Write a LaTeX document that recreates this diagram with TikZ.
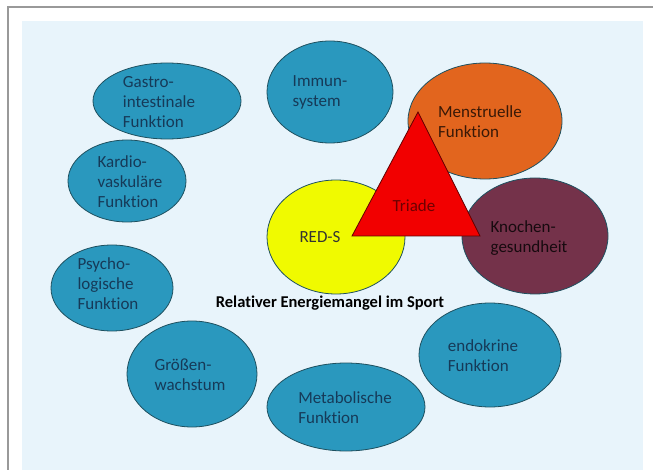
\documentclass[tikz,border=0pt]{standalone}
\usepackage{fontspec}
\setmainfont[Ligatures=NoCommon]{Carlito}
\usetikzlibrary{shapes.geometric}
\definecolor{pagebg}{RGB}{232,244,251}
\definecolor{bubblue}{RGB}{42,152,190}
\definecolor{bubline}{RGB}{30,80,95}
\definecolor{bubtext}{RGB}{22,58,88}
\definecolor{menstr}{RGB}{226,101,30}
\definecolor{knochen}{RGB}{116,50,74}
\definecolor{reds}{RGB}{240,250,0}
\definecolor{triade}{RGB}{242,0,0}
\begin{document}
\begin{tikzpicture}[x=1pt,y=-1pt,
	bub/.style={ellipse,draw=bubline,line width=0.8pt,fill=bubblue,inner sep=0pt},
	txt/.style={align=left,inner sep=0pt,text=bubtext,font=\fontsize{17}{20}\selectfont}]
		\useasboundingbox (0,0) rectangle (653,470);
		\fill[white] (0,0) rectangle (653,470);
		\draw[gray!80,line width=1.2pt] (8,470) -- (8,7) -- (653,7);
		\fill[pagebg] (22,21) rectangle (643,470);
		% blaue Kreise
		\node[bub,minimum width=148pt,minimum height=76pt] (gastro) at (167,101) {};
		\node[bub,minimum width=126pt,minimum height=102pt] (immun) at (330,92) {};
		\node[bub,minimum width=118pt,minimum height=82pt] (kardio) at (127,181) {};
		\node[bub,minimum width=122pt,minimum height=86pt] (psycho) at (112,288) {};
		\node[bub,minimum width=130pt,minimum height=106pt] (groesse) at (192,374) {};
		\node[bub,minimum width=158pt,minimum height=88pt] (metab) at (346,407) {};
		\node[bub,minimum width=142pt,minimum height=104pt] (endo) at (490,355) {};
		\node[txt] (gastro-t) at (159,102) {Gastro-\\intestinale\\Funktion};
		\node[txt] (immun-t) at (320,92) {Immun-\\system};
		\node[txt] (kardio-t) at (130,182) {Kardio-\\vaskuläre\\Funktion};
		\node[txt] (psycho-t) at (108,284) {Psycho-\\logische\\Funktion};
		\node[txt] (groesse-t) at (190,375) {Größen-\\wachstum};
		\node[txt] (metab-t) at (345,408) {Metabolische\\Funktion};
		\node[txt] (endo-t) at (483,356) {endokrine\\Funktion};
		% Triade
		\node[bub,fill=menstr,minimum width=154pt,minimum height=116pt] (menstr) at (485,121) {};
		\node[bub,fill=reds,minimum width=138pt,minimum height=114pt] (reds) at (336,237) {};
		\node[bub,fill=knochen,minimum width=146pt,minimum height=116pt] (knochen) at (535,236) {};
		\node[txt,text=black!75!menstr] (menstr-t) at (480,122) {Menstruelle\\Funktion};
		\node[txt,text=black!80!knochen] (knochen-t) at (529,238) {Knochen-\\gesundheit};
		\node[txt,text=black!80] (reds-t) at (320,237) {RED-S};
		\filldraw[fill=triade,draw=black!60!triade,line width=0.8pt] (418,112) -- (352,236) -- (480,236) -- cycle;
		\node[txt,text=black!55!triade] (triade-t) at (414,206) {Triade};
		\node[txt,text=black,font=\bfseries\fontsize{16.5}{18}\selectfont] (sport) at (330,303) {Relativer Energiemangel im Sport};
\end{tikzpicture}
\end{document}
